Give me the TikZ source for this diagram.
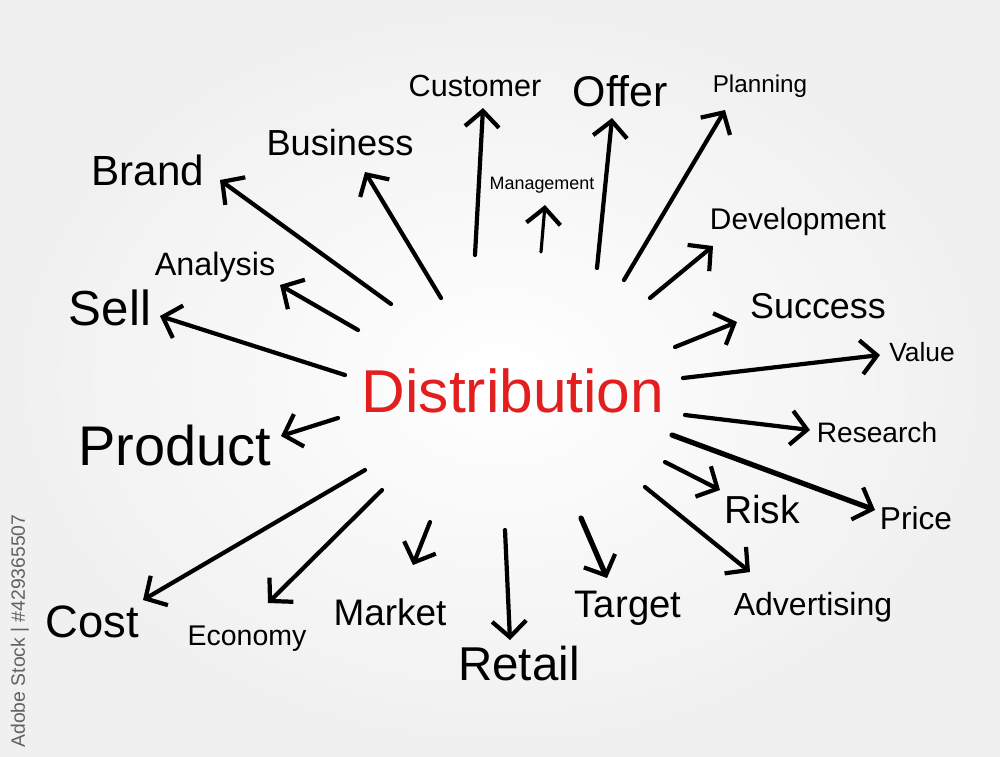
\documentclass[tikz,border=0pt]{standalone}
\usepackage{fontspec}
\setmainfont{Liberation Sans}
\usetikzlibrary{arrows.meta}
\definecolor{distred}{RGB}{226,30,30}

\begin{document}
\begin{tikzpicture}[x=0.01cm, y=-0.01cm,
  word/.style={inner sep=0pt, text height=0.72em, text depth=0pt, font=\fontsize{#1}{#1}\selectfont},
  arr/.style={line width=1.2pt, line cap=round, -{Straight Barb[length=1.6mm, width=3.4mm, line width=1.2pt]}}]
\shade[inner color=white, outer color=black!6] (0,0) rectangle (1000,756);
\useasboundingbox (0,0) rectangle (1000,756);

\node[rotate=90, inner sep=0pt, text=black!62, font=\fontsize{5.5}{6}\selectfont] (stock) at (20,631) {Adobe Stock | \#429365507};

\node[word=17.2, text=distred] (dist) at (513,400) {Distribution};

\node[word=8.7] (cust) at (475,84) {Customer};
\node[word=12.2] (offer) at (620,94) {Offer};
\node[word=6.9] (plan) at (760,80) {Planning};
\node[word=10.3] (bus) at (340,143) {Business};
\node[word=12] (brand) at (148,173) {Brand};
\node[word=5.1] (mgmt) at (542,177) {Management};
\node[word=8.5] (dev) at (798,217) {Development};
\node[word=9.2] (anal) at (215,263) {Analysis};
\node[word=14] (sell) at (110,313) {Sell};
\node[word=10.2] (succ) at (818,306) {Success};
\node[word=7.5] (value) at (922,349) {Value};
\node[word=15.9] (prod) at (175,453) {Product};
\node[word=8] (res) at (877,430) {Research};
\node[word=11.1] (risk) at (762,511) {Risk};
\node[word=9] (price) at (916,517) {Price};
\node[word=12.9] (cost) at (92,625) {Cost};
\node[word=8.1] (econ) at (247,633) {Economy};
\node[word=10.5] (market) at (390,613) {Market};
\node[word=10.9] (target) at (628,605) {Target};
\node[word=9.1] (adv) at (813,603) {Advertising};
\node[word=13.5] (retail) at (519,668) {Retail};

\coordinate (cust-a) at (475,255);
\coordinate (cust-b) at (483,108);
\coordinate (offer-a) at (597,268);
\coordinate (offer-b) at (612,118);
\coordinate (plan-a) at (624,280);
\coordinate (plan-b) at (725,110);
\coordinate (mgmt-a) at (541,252);
\coordinate (mgmt-b) at (545,205);
\coordinate (dev-a) at (650,298);
\coordinate (dev-b) at (713,246);
\coordinate (succ-a) at (675,347);
\coordinate (succ-b) at (737,322);
\coordinate (value-a) at (683,378);
\coordinate (value-b) at (880,355);
\coordinate (res-a) at (685,415);
\coordinate (res-b) at (810,430);
\coordinate (price-a) at (672,435);
\coordinate (price-b) at (875,510);
\coordinate (risk-a) at (665,462);
\coordinate (risk-b) at (720,490);
\coordinate (adv-a) at (645,487);
\coordinate (adv-b) at (750,572);
\coordinate (target-a) at (581,518);
\coordinate (target-b) at (607,578);
\coordinate (retail-a) at (505,530);
\coordinate (retail-b) at (510,640);
\coordinate (market-a) at (430,522);
\coordinate (market-b) at (413,565);
\coordinate (econ-a) at (382,490);
\coordinate (econ-b) at (268,603);
\coordinate (cost-a) at (365,470);
\coordinate (cost-b) at (143,600);
\coordinate (prod-a) at (338,418);
\coordinate (prod-b) at (281,436);
\coordinate (sell-a) at (345,375);
\coordinate (sell-b) at (160,316);
\coordinate (anal-a) at (358,330);
\coordinate (anal-b) at (280,285);
\coordinate (brand-a) at (391,304);
\coordinate (brand-b) at (220,180);
\coordinate (bus-a) at (441,298);
\coordinate (bus-b) at (365,172);

\draw[arr] (cust-a) -- (cust-b);
\draw[arr] (offer-a) -- (offer-b);
\draw[arr] (plan-a) -- (plan-b);
\draw[arr, line width=0.9pt] (mgmt-a) -- (mgmt-b);
\draw[arr] (dev-a) -- (dev-b);
\draw[arr] (succ-a) -- (succ-b);
\draw[arr] (value-a) -- (value-b);
\draw[arr] (res-a) -- (res-b);
\draw[arr, line width=1.5pt] (price-a) -- (price-b);
\draw[arr] (risk-a) -- (risk-b);
\draw[arr] (adv-a) -- (adv-b);
\draw[arr, line width=1.5pt] (target-a) -- (target-b);
\draw[arr] (retail-a) -- (retail-b);
\draw[arr] (market-a) -- (market-b);
\draw[arr] (econ-a) -- (econ-b);
\draw[arr] (cost-a) -- (cost-b);
\draw[arr] (prod-a) -- (prod-b);
\draw[arr] (sell-a) -- (sell-b);
\draw[arr] (anal-a) -- (anal-b);
\draw[arr] (brand-a) -- (brand-b);
\draw[arr] (bus-a) -- (bus-b);
\end{tikzpicture}
\end{document}
